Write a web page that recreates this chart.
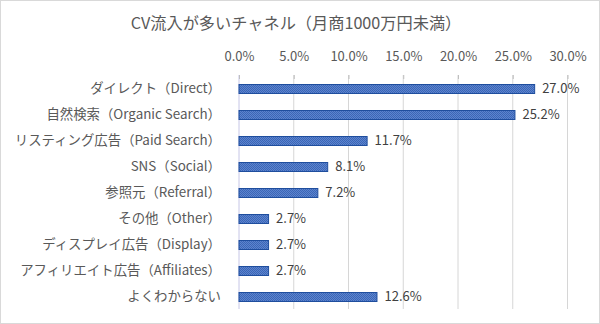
<!DOCTYPE html>
<html>
<head>
<meta charset="utf-8">
<script src="https://cdn.jsdelivr.net/npm/d3@7"></script>
<style>
  html, body { margin: 0; padding: 0; background: #fff; }
  svg { display: block; font-family: "Noto Sans CJK JP", "Noto Sans", sans-serif; }
</style>
</head>
<body>
<div id="chart"></div>
<script>
// ------- Data -------
const title = "CV流入が多いチャネル（月商1000万円未満）";
const categories = [
  "ダイレクト（Direct）",
  "自然検索（Organic Search）",
  "リスティング広告（Paid Search）",
  "SNS（Social）",
  "参照元（Referral）",
  "その他（Other）",
  "ディスプレイ広告（Display）",
  "アフィリエイト広告（Affiliates）",
  "よくわからない",
];
const values = [27.0, 25.2, 11.7, 8.1, 7.2, 2.7, 2.7, 2.7, 12.6];
const tickValues = [0, 5, 10, 15, 20, 25, 30];

// ------- Layout -------
const width = 600;
const height = 324;
const margin = { top: 75, right: 33, bottom: 15, left: 238.5 };

const svg = d3
  .select("#chart")
  .append("svg")
  .attr("width", width)
  .attr("height", height);

// chart border
svg
  .append("rect")
  .attr("x", 0.5)
  .attr("y", 0.5)
  .attr("width", width - 1)
  .attr("height", height - 1)
  .attr("fill", "#fff")
  .attr("stroke", "#d9d9d9");

// dithered bar fill
const defs = svg.append("defs");
const pat = defs
  .append("pattern")
  .attr("id", "dots")
  .attr("width", 2)
  .attr("height", 2)
  .attr("patternUnits", "userSpaceOnUse");
pat.append("rect").attr("width", 2).attr("height", 2).attr("fill", "#5b84cf");
pat.append("rect").attr("width", 1).attr("height", 1).attr("fill", "#3d66b5");
pat.append("rect").attr("x", 1).attr("y", 1).attr("width", 1).attr("height", 1).attr("fill", "#3d66b5");

svg
  .append("text")
  .attr("x", 296)
  .attr("y", 23)
  .attr("dy", "0.35em")
  .attr("text-anchor", "middle")
  .attr("font-size", 16.2)
  .attr("fill", "#595959")
  .text(title);

// ------- Scales -------
const x = d3
  .scaleLinear()
  .domain([0, 30])
  .range([margin.left, width - margin.right]);

const y = d3
  .scaleBand()
  .domain(categories)
  .range([margin.top, height - margin.bottom])
  .paddingInner(0.66)
  .paddingOuter(0.33);

// ------- Gridlines -------
svg
  .append("g")
  .selectAll("line")
  .data(tickValues)
  .join("line")
  .attr("x1", (d) => x(d) + 0.5)
  .attr("x2", (d) => x(d) + 0.5)
  .attr("y1", margin.top)
  .attr("y2", height - margin.bottom)
  .attr("stroke", (d) => (d === 0 ? "#c6c6e6" : "#d6d6d6"))
  .attr("stroke-width", 1);

// top axis labels
const xAxis = d3
  .axisTop(x)
  .tickValues(tickValues)
  .tickFormat((d) => d3.format(".1f")(d) + "%")
  .tickSize(4)
  .tickPadding(14);

const xAxisG = svg
  .append("g")
  .attr("transform", `translate(0.5,${margin.top + 4})`)
  .call(xAxis);
xAxisG.select(".domain").remove();
xAxisG.selectAll(".tick line").attr("stroke", "#bfbfbf");
xAxisG
  .selectAll(".tick text")
  .attr("font-family", "Noto Sans CJK JP")
  .attr("font-size", 13)
  .attr("fill", "#595959");

// category labels
svg
  .append("g")
  .selectAll("text")
  .data(categories)
  .join("text")
  .attr("x", 221)
  .attr("y", (d) => y(d) + y.bandwidth() / 2)
  .attr("dy", "0.35em")
  .attr("text-anchor", "end")
  .attr("font-size", 13.4)
  .attr("fill", "#595959")
  .text((d) => d);

// bars
const rows = categories.map((c, i) => ({ key: c, value: values[i] }));

svg
  .append("g")
  .selectAll("rect")
  .data(rows)
  .join("rect")
  .attr("x", x(0) + 0.5)
  .attr("y", (d) => Math.round(y(d.key)) + 0.5)
  .attr("width", (d) => x(d.value) - x(0))
  .attr("height", Math.round(y.bandwidth()))
  .attr("fill", "url(#dots)")
  .attr("stroke", "#1f4e9e")
  .attr("stroke-width", 1);

// value labels
svg
  .append("g")
  .selectAll("text")
  .data(rows)
  .join("text")
  .attr("x", (d) => x(d.value) + 8)
  .attr("y", (d) => y(d.key) + y.bandwidth() / 2)
  .attr("dy", "0.35em")
  .attr("font-size", 13)
  .attr("fill", "#404040")
  .text((d) => d3.format(".1f")(d.value) + "%");
</script>
</body>
</html>
